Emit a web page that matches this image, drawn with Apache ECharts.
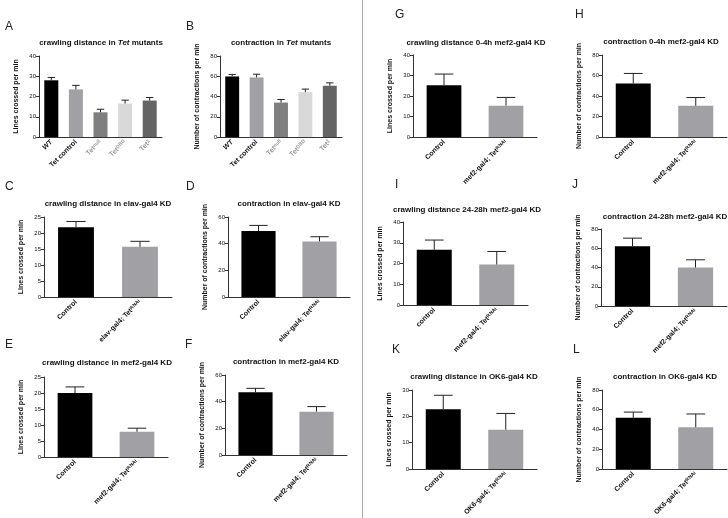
<!DOCTYPE html>
<html><head><meta charset="utf-8">
<script src="https://cdn.jsdelivr.net/npm/echarts@6/dist/echarts.min.js"></script>
<style>html,body{margin:0;padding:0;background:#fff}#c{width:728px;height:518px}</style>
</head><body><div id="c"></div>
<script>
// ---------- DATA ----------
const catsTet = ['WT', 'Tet control', 'Tet^null', 'Tet^DBD', 'Tet^2'];
const crawlTetMean = [28, 23.5, 12.2, 16.5, 18];
const crawlTetSem = [1.4, 2.0, 1.5, 1.7, 1.5];
const contrTetMean = [59.8, 58.8, 34, 44.3, 50.6];
const contrTetSem = [2.0, 3.2, 3.0, 3.0, 2.9];

const catsElav = ['Control', 'elav-gal4; Tet^RNAi'];
const crawlElavMean = [21.8, 15.7];
const crawlElavSem = [1.8, 1.7];
const contrElavMean = [49.5, 41.7];
const contrElavSem = [4.2, 3.5];

const catsMef2 = ['Control', 'mef2-gal4; Tet^RNAi'];
const crawlMef2Mean = [20, 7.9];
const crawlMef2Sem = [1.9, 1.1];
const contrMef2Mean = [47, 32.5];
const contrMef2Sem = [3.0, 3.8];

const crawl04Mean = [25.3, 15.3];
const crawl04Sem = [5.4, 4.0];
const contr04Mean = [52.2, 30.4];
const contr04Sem = [9.8, 8.1];

const cats2428 = ['control', 'mef2-gal4; Tet^RNAi'];
const crawl2428Mean = [26.6, 19.5];
const crawl2428Sem = [4.7, 6.3];
const catsMef2b = ['Control', 'mef2-gal4; Tet^RNAi'];
const contr2428Mean = [62, 40];
const contr2428Sem = [8.5, 8.0];

const catsOK6 = ['Control', 'OK6-gal4; Tet^RNAi'];
const crawlOK6Mean = [22.7, 14.9];
const crawlOK6Sem = [5.3, 6.2];
const contrOK6Mean = [51.8, 42.2];
const contrOK6Sem = [5.8, 13.5];

const yCrawl = 'Lines crossed per min';
const yContr = 'Number of contractions per min';

// ---------- LAYOUT / STYLE ----------
const tetColors = ['#000000', '#a1a1a5', '#7f7f7f', '#d9d9d9', '#646464'];
const kdColors = ['#000000', '#a1a1a5'];
const FONT = 'Arial, "Liberation Sans", sans-serif';

const panels = [
  {L:'A', lx:5, ly:27, title:'crawling distance in {i|Tet} mutants', tx:101, ty:43, g:[39,56,123,81], cats:catsTet, mean:crawlTetMean, sem:crawlTetSem, colors:tetColors, max:40, iv:10, yn:yCrawl, tet:true},
  {L:'B', lx:186, ly:27, title:'contraction in {i|Tet} mutants', tx:281, ty:43, g:[220,56,122,81], cats:catsTet, mean:contrTetMean, sem:contrTetSem, colors:tetColors, max:80, iv:20, yn:yContr, tet:true},
  {L:'C', lx:5, ly:187, title:'crawling distance in elav-gal4 KD', tx:108, ty:204, g:[44,217,128,80], cats:catsElav, mean:crawlElavMean, sem:crawlElavSem, colors:kdColors, max:25, iv:5, yn:yCrawl},
  {L:'D', lx:186, ly:187, title:'contraction in elav-gal4 KD', tx:289, ty:204, g:[228,217,122,80], cats:catsElav, mean:contrElavMean, sem:contrElavSem, colors:kdColors, max:60, iv:20, yn:yContr},
  {L:'E', lx:5, ly:345, title:'crawling distance in mef2-gal4 KD', tx:107, ty:363, g:[44,377,124,80], cats:catsMef2, mean:crawlMef2Mean, sem:crawlMef2Sem, colors:kdColors, max:25, iv:5, yn:yCrawl},
  {L:'F', lx:185, ly:345, title:'contraction in mef2-gal4 KD', tx:286, ty:362, g:[225,375,122,80], cats:catsMef2, mean:contrMef2Mean, sem:contrMef2Sem, colors:kdColors, max:60, iv:20, yn:yContr},
  {L:'G', lx:395, ly:15, title:'crawling distance 0-4h mef2-gal4 KD', tx:476, ty:43, g:[413,55,124,82], cats:catsMef2, mean:crawl04Mean, sem:crawl04Sem, colors:kdColors, max:40, iv:10, yn:yCrawl},
  {L:'H', lx:575, ly:15, title:'contraction 0-4h mef2-gal4 KD', tx:661, ty:42, g:[602,55,125,82], cats:catsMef2, mean:contr04Mean, sem:contr04Sem, colors:kdColors, max:80, iv:20, yn:yContr},
  {L:'I', lx:395, ly:185, title:'crawling distance 24-28h mef2-gal4 KD', tx:467, ty:210, g:[403,222,125,83], cats:cats2428, mean:crawl2428Mean, sem:crawl2428Sem, colors:kdColors, max:40, iv:10, yn:yCrawl},
  {L:'J', lx:572, ly:185, title:'contraction 24-28h mef2-gal4 KD', tx:665, ty:217, g:[601,229,126,77], cats:catsMef2b, mean:contr2428Mean, sem:contr2428Sem, colors:kdColors, max:80, iv:20, yn:yContr},
  {L:'K', lx:392, ly:350, title:'crawling distance in OK6-gal4 KD', tx:474, ty:377, g:[412,390,125,83], cats:catsOK6, mean:crawlOK6Mean, sem:crawlOK6Sem, colors:kdColors, max:30, iv:10, yn:yCrawl},
  {L:'L', lx:573, ly:350, title:'contraction in OK6-gal4 KD', tx:665, ty:377, g:[602,390,125,83], cats:catsOK6, mean:contrOK6Mean, sem:contrOK6Sem, colors:kdColors, max:80, iv:20, yn:yContr}
];

function labelFmt(tet) {
  return function (v) {
    if (tet) {
      if (v === 'WT') return '{i|WT}';
      if (v === 'Tet control') return '{b|Tet control}';
    }
    const k = v.indexOf('^');
    if (k < 0) return '{b|' + v + '}';
    const main = v.slice(0, k), sup = v.slice(k + 1);
    return tet ? '{g|' + main + '}{gs|' + sup + '}' : '{b|' + main + '}{s|' + sup + '}';
  };
}
const labelRich = {
  b: {fontSize: 7, fontWeight: 'bold', color: '#111', fontFamily: FONT},
  i: {fontSize: 7, fontWeight: 'bold', fontStyle: 'italic', color: '#111', fontFamily: FONT},
  s: {fontSize: 5, fontWeight: 'bold', color: '#111', verticalAlign: 'top', fontFamily: FONT},
  g: {fontSize: 7, fontWeight: 'bold', color: '#999', fontFamily: FONT},
  gs: {fontSize: 5, fontWeight: 'bold', color: '#999', verticalAlign: 'top', fontFamily: FONT}
};

function renderErr(params, api) {
  const x = api.value(0), m = api.value(1), t = api.value(2);
  const p0 = api.coord([x, m]);
  const p1 = api.coord([x, t]);
  const w = api.size([1, 0])[0] * 0.15;
  return {type: 'group', children: [
    {type: 'line', shape: {x1: p0[0], y1: p0[1], x2: p1[0], y2: p1[1]}, style: {stroke: '#222', lineWidth: 1}},
    {type: 'line', shape: {x1: p1[0] - w, y1: p1[1], x2: p1[0] + w, y2: p1[1]}, style: {stroke: '#222', lineWidth: 1}}
  ]};
}

const grid = [], xAxis = [], yAxis = [], series = [], graphic = [];
panels.forEach((p, idx) => {
  grid.push({left: p.g[0], top: p.g[1], width: p.g[2], height: p.g[3]});
  xAxis.push({
    type: 'category', gridIndex: idx, data: p.cats,
    axisLine: {lineStyle: {color: '#333', width: 1}},
    axisTick: {alignWithLabel: true, length: 3, lineStyle: {color: '#333'}},
    axisLabel: {rotate: 45, margin: 4, interval: 0, formatter: labelFmt(p.tet), rich: labelRich}
  });
  yAxis.push({
    type: 'value', gridIndex: idx, min: 0, max: p.max, interval: p.iv,
    name: p.yn, nameLocation: 'middle', nameGap: 19,
    nameTextStyle: {fontSize: 7, fontWeight: 'bold', color: '#111', fontFamily: FONT},
    axisLine: {show: true, lineStyle: {color: '#333', width: 1}},
    axisTick: {show: true, length: 3, lineStyle: {color: '#333'}},
    axisLabel: {fontSize: 6, color: '#111', margin: 3, fontFamily: FONT},
    splitLine: {show: false}
  });
  series.push({
    type: 'bar', xAxisIndex: idx, yAxisIndex: idx, barWidth: p.tet ? '57%' : '56%',
    data: p.mean.map((v, i) => ({value: v, itemStyle: {color: p.colors[i]}})),
    silent: true
  });
  series.push({
    type: 'custom', xAxisIndex: idx, yAxisIndex: idx, renderItem: renderErr, z: 5,
    data: p.mean.map((v, i) => [i, v, v + p.sem[i]]),
    silent: true
  });
  graphic.push({type: 'text', x: p.lx, y: p.ly, style: {text: p.L, font: '12px ' + FONT, fill: '#222', textVerticalAlign: 'middle'}});
  graphic.push({type: 'text', x: p.tx, y: p.ty, style: {
    text: p.title, fill: '#111', textAlign: 'center', textVerticalAlign: 'middle',
    font: 'bold 8px ' + FONT,
    rich: {i: {fontStyle: 'italic', fontWeight: 'bold', fontSize: 8, fontFamily: FONT, fill: '#111'}}
  }});
});
graphic.push({type: 'line', shape: {x1: 362.5, y1: 0, x2: 362.5, y2: 518}, style: {stroke: '#aaa', lineWidth: 1}});

const chart = echarts.init(document.getElementById('c'), null, {renderer: 'canvas'});
chart.setOption({
  animation: false,
  textStyle: {fontFamily: FONT},
  grid, xAxis, yAxis, series, graphic
});
</script></body></html>
